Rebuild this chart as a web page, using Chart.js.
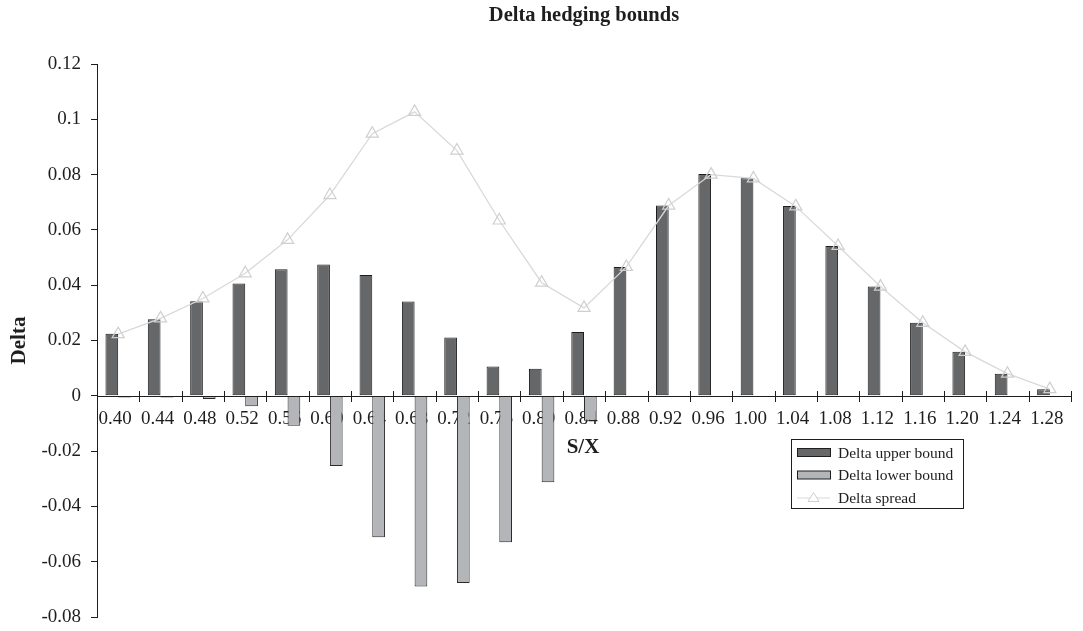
<!DOCTYPE html>
<html>
<head>
<meta charset="utf-8">
<title>Delta hedging bounds</title>
<script src="https://cdn.jsdelivr.net/npm/chart.js@4.4.1/dist/chart.umd.min.js"></script>
<style>
  html, body { margin: 0; padding: 0; background: #ffffff; }
  #wrap { width: 1083px; height: 631px; position: relative; }
</style>
</head>
<body>
<div id="wrap"><canvas id="chart" width="1083" height="631"></canvas></div>
<script>
// S/X moneyness levels
const categories = ['0.40','0.44','0.48','0.52','0.56','0.60','0.64','0.68','0.72','0.76','0.80','0.84',
                    '0.88','0.92','0.96','1.00','1.04','1.08','1.12','1.16','1.20','1.24','1.28'];

// Upper and lower delta bounds
const deltaUpper = [0.0224, 0.0277, 0.0342, 0.0406, 0.0458, 0.0475, 0.0437, 0.0341, 0.0211, 0.0106, 0.0098, 0.0231,
                    0.0466, 0.0688, 0.0802, 0.0787, 0.0686, 0.0542, 0.0395, 0.0264, 0.0159, 0.0080, 0.0024];
const deltaLower = [-0.0006, -0.0006, -0.0012, -0.0038, -0.0108, -0.0254, -0.0512, -0.0690, -0.0677, -0.0530, -0.0313, -0.0090,
                    0, 0, 0, 0, 0, 0, 0, 0, 0, 0, 0];

// Spread between the bounds
const deltaSpread = [0.0223, 0.0280, 0.0352, 0.0443, 0.0564, 0.0726, 0.0948, 0.1027, 0.0887, 0.0634, 0.0409, 0.0318,
                     0.0466, 0.0688, 0.0800, 0.0786, 0.0685, 0.0542, 0.0395, 0.0264, 0.0159, 0.0080, 0.0024];

// Value axis ticks
const yTicks = [-0.08, -0.06, -0.04, -0.02, 0, 0.02, 0.04, 0.06, 0.08, 0.1, 0.12];

const SERIF = '"Liberation Serif", "Times New Roman", serif';
const INK = '#1e1e1e';

// Titles, category axis line with crossing ticks, and the boxed legend
const decorations = {
  id: 'decorations',
  afterDraw(chart) {
    const ctx = chart.ctx;
    const area = chart.chartArea;
    const xs = chart.scales.x;
    const ys = chart.scales.y;
    const y0 = ys.getPixelForValue(0);
    const n = categories.length;
    const step = (xs.right - xs.left) / n;

    ctx.save();
    // category axis line at zero
    ctx.strokeStyle = INK;
    ctx.lineWidth = 1;
    ctx.beginPath();
    ctx.moveTo(area.left, Math.round(y0) + 0.5);
    ctx.lineTo(area.right, Math.round(y0) + 0.5);
    ctx.stroke();
    // tick marks between categories, crossing the axis
    ctx.beginPath();
    for (let i = 0; i <= n; i++) {
      const x = Math.round(xs.getPixelForValue(Math.min(i, n - 1)) + (i < n ? -step / 2 : step / 2)) + 0.5;
      ctx.moveTo(x, Math.round(y0) - 5);
      ctx.lineTo(x, Math.round(y0) + 6);
    }
    ctx.stroke();

    // chart title
    const cx = (area.left + area.right) / 2;
    ctx.fillStyle = INK;
    ctx.font = 'bold 20.5px ' + SERIF;
    ctx.textAlign = 'center';
    ctx.textBaseline = 'alphabetic';
    ctx.fillText('Delta hedging bounds', cx, 21);

    // category axis title
    ctx.font = 'bold 21px ' + SERIF;
    ctx.fillText('S/X', 583, 453);

    // value axis title
    ctx.save();
    ctx.translate(25, (area.top + area.bottom) / 2);
    ctx.rotate(-Math.PI / 2);
    ctx.textAlign = 'center';
    ctx.fillText('Delta', 0, 0);
    ctx.restore();

    // legend
    const lx = 791.5, ly = 439.5, lw = 172, lh = 69;
    ctx.fillStyle = '#ffffff';
    ctx.fillRect(lx, ly, lw, lh);
    ctx.strokeStyle = INK;
    ctx.strokeRect(lx, ly, lw, lh);
    const rows = [452.5, 475, 497.5];
    const ds = chart.data.datasets;
    ctx.font = '15.5px ' + SERIF;
    ctx.textAlign = 'left';
    ctx.textBaseline = 'middle';
    for (let r = 0; r < 3; r++) {
      const d = ds[r];
      const ry = rows[r];
      if (d.type === 'line') {
        ctx.strokeStyle = d.borderColor;
        ctx.lineWidth = 1;
        ctx.beginPath();
        ctx.moveTo(797, ry + 0.5);
        ctx.lineTo(830, ry + 0.5);
        ctx.stroke();
        ctx.strokeStyle = d.pointBorderColor;
        ctx.beginPath();
        ctx.moveTo(813.5, ry - 5);
        ctx.lineTo(819, ry + 4);
        ctx.lineTo(808, ry + 4);
        ctx.closePath();
        ctx.fillStyle = '#ffffff';
        ctx.fill();
        ctx.stroke();
      } else {
        ctx.fillStyle = d.backgroundColor;
        ctx.fillRect(797.5, ry - 4, 33, 8);
        ctx.strokeStyle = INK;
        ctx.lineWidth = 1;
        ctx.strokeRect(797.5, ry - 4, 33, 8);
      }
      ctx.fillStyle = INK;
      ctx.fillText(d.label, 838, ry + 1);
    }
    ctx.restore();
  }
};

new Chart(document.getElementById('chart'), {
  data: {
    labels: categories,
    datasets: [
      {
        type: 'bar',
        label: 'Delta upper bound',
        data: deltaUpper,
        backgroundColor: '#666769',
        borderColor: '#1e1e1e',
        borderWidth: 1,
        borderSkipped: false,
        categoryPercentage: 0.6,
        barPercentage: 1.0,
        order: 1
      },
      {
        type: 'bar',
        label: 'Delta lower bound',
        data: deltaLower,
        backgroundColor: '#b4b5b8',
        borderColor: '#2a2a2a',
        borderWidth: 1,
        borderSkipped: false,
        categoryPercentage: 0.6,
        barPercentage: 1.0,
        order: 2
      },
      {
        type: 'line',
        label: 'Delta spread',
        data: deltaSpread,
        borderColor: '#d9d9d9',
        borderWidth: 1.3,
        tension: 0,
        pointStyle: 'triangle',
        pointRadius: 7,
        pointBorderWidth: 1.2,
        pointBorderColor: '#cfcfcf',
        pointBackgroundColor: 'rgba(0,0,0,0)',
        order: 0
      }
    ]
  },
  options: {
    responsive: false,
    animation: false,
    events: [],
    layout: { padding: { top: 64, right: 12, bottom: 14, left: 0 } },
    plugins: {
      legend: { display: false },
      title: { display: false },
      tooltip: { enabled: false }
    },
    scales: {
      x: {
        type: 'category',
        offset: true,
        position: { y: 0 },
        afterFit(scale) { scale.height = 0; },
        grid: { display: false, drawTicks: false },
        border: { display: false },
        ticks: {
          color: INK,
          font: { family: SERIF, size: 19 },
          padding: 12,
          labelOffset: -3,
          maxRotation: 0,
          autoSkip: false
        }
      },
      y: {
        type: 'linear',
        min: yTicks[0],
        max: yTicks[yTicks.length - 1],
        afterBuildTicks(scale) {
          scale.ticks = yTicks.map(v => ({ value: v }));
        },
        afterFit(scale) {
          scale.width = 97;
          scale.paddingTop = 0;
          scale.paddingBottom = 0;
        },
        grid: {
          drawOnChartArea: false,
          drawTicks: true,
          tickLength: 6,
          color: INK
        },
        border: { display: true, color: INK, width: 1 },
        ticks: {
          color: INK,
          font: { family: SERIF, size: 19 },
          padding: 10,
          callback: v => String(parseFloat(Number(v).toFixed(2)))
        }
      }
    }
  },
  plugins: [decorations]
});
</script>
</body>
</html>
